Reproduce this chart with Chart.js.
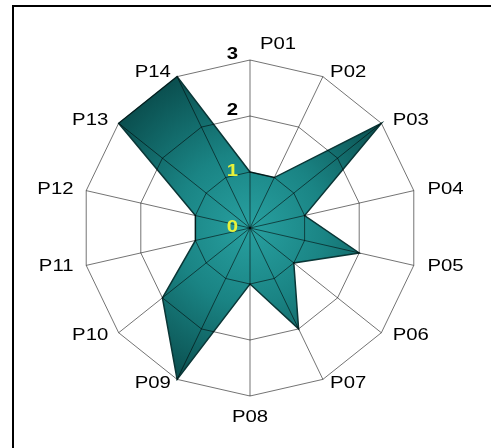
<!DOCTYPE html>
<html>
<head>
<meta charset="utf-8">
<script src="https://cdn.jsdelivr.net/npm/chart.js@4/dist/chart.umd.min.js"></script>
<style>
  html, body { margin: 0; padding: 0; background: #fff; }
  #wrap { position: relative; width: 491px; height: 448px; overflow: hidden; }
  #frame { position: absolute; left: 12px; top: 5px; width: 500px; height: 460px;
           border-left: 2px solid #000; border-top: 2px solid #000; box-sizing: border-box; }
  canvas { position: absolute; left: 0; top: 0; }
</style>
</head>
<body>
<div id="wrap">
  <div id="frame"></div>
  <canvas id="c" width="491" height="448"></canvas>
</div>
<script>
// Categories around the radar, clockwise from the top
const categories = ['P01','P02','P03','P04','P05','P06','P07','P08','P09','P10','P11','P12','P13','P14'];
// Score for each category
const scores = [1, 1, 3, 1, 2, 1, 2, 1, 3, 2, 1, 1, 3, 3];
// Radial axis range and step
const scaleMin = 0;
const scaleMax = 3;
const scaleStep = 1;

const LABEL_FONT = '16px "Liberation Sans", Arial, sans-serif';
const TICK_FONT = 'bold 16px "Liberation Sans", Arial, sans-serif';
const STRETCH = 1.27;

function drawStretched(ctx, text, x, y, align) {
  ctx.save();
  ctx.translate(x, y);
  ctx.scale(STRETCH, 1);
  ctx.textAlign = align;
  ctx.textBaseline = 'middle';
  ctx.fillText(text, 0, 0);
  ctx.restore();
}

// Category names and radial tick values, drawn around the scale
const labelsPlugin = {
  id: 'radarLabels',
  afterDraw(chart) {
    const s = chart.scales.r;
    const ctx = chart.ctx;
    const R = s.drawingArea;
    const n = chart.data.labels.length;
    ctx.save();
    ctx.fillStyle = '#000';
    ctx.font = LABEL_FONT;
    for (let i = 0; i < n; i++) {
      const a = s.getIndexAngle(i);          // 0 at top, clockwise
      const sin = Math.sin(a), cos = Math.cos(a);
      const label = chart.data.labels[i];
      if (Math.abs(sin) < 0.01) {
        if (cos > 0) {
          drawStretched(ctx, label, s.xCenter + 10, s.yCenter - R - 15, 'left');
        } else {
          drawStretched(ctx, label, s.xCenter, s.yCenter + R + 22, 'center');
        }
        continue;
      }
      const x = s.xCenter + (R + 12) * sin;
      const y = s.yCenter - (R + 5) * cos;
      if (sin > 0) drawStretched(ctx, label, x + 2, y, 'left');
      else drawStretched(ctx, label, x - 1, y, 'right');
    }
    ctx.font = TICK_FONT;
    s.ticks.forEach(t => {
      const d = s.getDistanceFromCenterForValue(t.value);
      const y = s.yCenter - d - (t.value >= 2 ? 5 : 0);
      ctx.fillStyle = t.value <= 1 ? '#e8f23a' : '#000';
      drawStretched(ctx, String(t.value), s.xCenter - 12, y, 'right');
    });
    ctx.restore();
  }
};

new Chart(document.getElementById('c'), {
  type: 'radar',
  data: {
    labels: categories,
    datasets: [{
      data: scores,
      borderColor: '#0a3636',
      borderWidth: 1.5,
      pointRadius: 0,
      fill: true,
      backgroundColor(context) {
        const chart = context.chart;
        const s = chart.scales.r;
        if (!s || !s.drawingArea) return '#1a8080';
        const g = chart.ctx.createRadialGradient(s.xCenter, s.yCenter, 0, s.xCenter, s.yCenter, s.drawingArea);
        g.addColorStop(0, 'rgb(40,160,160)');
        g.addColorStop(0.45, 'rgb(26,132,132)');
        g.addColorStop(1, 'rgb(10,78,78)');
        return g;
      }
    }]
  },
  options: {
    responsive: false,
    animation: false,
    events: [],
    layout: { padding: { left: 82, right: 73, top: 60, bottom: 52 } },
    plugins: { legend: { display: false }, tooltip: { enabled: false } },
    scales: {
      r: {
        min: scaleMin,
        max: scaleMax,
        ticks: { stepSize: scaleStep, display: false, z: 1 },
        pointLabels: { display: false },
        // the grid layer sits above the filled area
        grid: { z: 1, color: 'rgba(0,0,0,0.55)', lineWidth: 1, circular: false },
        angleLines: { color: 'rgba(0,0,0,0.55)', lineWidth: 1 }
      }
    }
  },
  plugins: [labelsPlugin]
});
</script>
</body>
</html>
